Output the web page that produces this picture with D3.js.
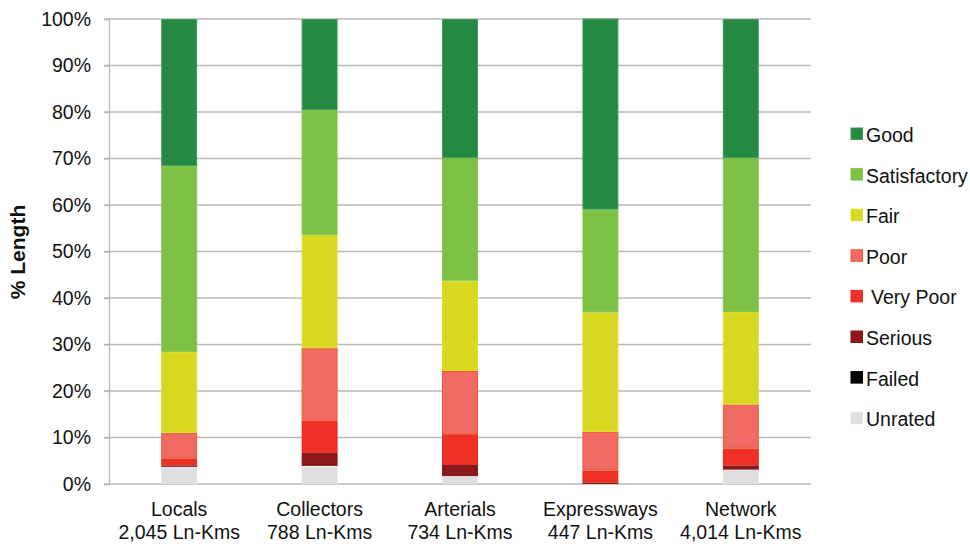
<!DOCTYPE html>
<html>
<head>
<meta charset="utf-8">
<script src="https://cdn.jsdelivr.net/npm/d3@7"></script>
<style>
  html, body { margin: 0; padding: 0; background: #fff; }
  svg { display: block; font-family: "Liberation Sans", Arial, sans-serif; }
</style>
</head>
<body>
<svg id="chart" width="970" height="544"></svg>
<script>
// Road classes and their network length
const categories = ["Locals", "Collectors", "Arterials", "Expressways", "Network"];
const lengths = ["2,045 Ln-Kms", "788 Ln-Kms", "734 Ln-Kms", "447 Ln-Kms", "4,014 Ln-Kms"];

// Condition ratings, stacked bottom to top
const conditions = ["Unrated", "Failed", "Serious", "Very Poor", "Poor", "Fair", "Satisfactory", "Good"];

// Share of length (%) per condition, one value per road class
const unrated      = [3.7, 3.7, 1.7, 0.0, 3.1];
const failed       = [0.0, 0.2, 0.0, 0.0, 0.0];
const serious      = [0.3, 2.8, 2.4, 0.3, 0.9];
const veryPoor     = [1.5, 6.9, 6.6, 2.6, 3.6];
const poor         = [5.5, 15.6, 13.6, 8.3, 9.5];
const fair         = [17.4, 24.3, 19.4, 25.7, 19.9];
const satisfactory = [40.0, 26.9, 26.4, 22.1, 33.1];
const good         = [31.6, 19.6, 29.9, 41.1, 29.9];

const yTicks = [0, 10, 20, 30, 40, 50, 60, 70, 80, 90, 100];

const fills = {
  "Unrated": "#dedede", "Failed": "#050505", "Serious": "#8c181c",
  "Very Poor": "#ee3124", "Poor": "#f06b63", "Fair": "#d8d820",
  "Satisfactory": "#7cc143", "Good": "#268943"
};
const strokes = {
  "Unrated": "#e4e4e4", "Failed": "#000", "Serious": "#7e1519",
  "Very Poor": "#e02a22", "Poor": "#f2582a", "Fair": "#dcdc30",
  "Satisfactory": "#82c64c", "Good": "#3d9a55"
};

const seriesValues = [unrated, failed, serious, veryPoor, poor, fair, satisfactory, good];
const rows = categories.map((c, i) => {
  const r = { category: c };
  conditions.forEach((k, j) => { r[k] = seriesValues[j][i]; });
  return r;
});

const svg = d3.select("#chart");
const x = d3.scaleBand().domain(categories).range([109, 811]).paddingInner(0.744).paddingOuter(0.372);
const y = d3.scaleLinear().domain([0, 100]).range([484, 19]);

// gridlines
svg.append("g")
  .selectAll("line").data(yTicks).join("line")
  .attr("x1", 104).attr("x2", 811)
  .attr("y1", d => y(d)).attr("y2", d => y(d))
  .attr("stroke", "#b8b8b8").attr("stroke-width", 1.3);

// y axis
const yAxis = d3.axisLeft(y).tickValues(yTicks).tickFormat(d => d + "%").tickSize(5).tickPadding(13);
const ya = svg.append("g").attr("transform", "translate(109,0)").call(yAxis);
ya.select(".domain").attr("stroke", "#b8b8b8").attr("stroke-width", 1.3);
ya.selectAll(".tick line").attr("stroke", "#b8b8b8").attr("stroke-width", 1.3);
ya.selectAll(".tick text").attr("font-size", 19.5).attr("fill", "#111")
  .attr("font-family", "Liberation Sans, Arial, sans-serif");

// stacked bars
const stack = d3.stack().keys(conditions)(rows);
svg.append("g").selectAll("g").data(stack).join("g")
  .attr("fill", d => fills[d.key])
  .attr("stroke", d => strokes[d.key])
  .attr("stroke-width", 1)
  .selectAll("rect").data(d => d.filter(p => p[1] - p[0] > 0)).join("rect")
  .attr("x", d => x(d.data.category) + 0.5)
  .attr("width", x.bandwidth() - 1)
  .attr("y", d => y(d[1]) + 0.5)
  .attr("height", d => Math.max(0, y(d[0]) - y(d[1]) - 1));

// category labels
const xl = svg.append("g").selectAll("text").data(categories).join("text")
  .attr("text-anchor", "middle")
  .attr("font-size", 19.5).attr("fill", "#111");
xl.append("tspan").attr("x", d => x(d) + x.bandwidth() / 2).attr("y", 516).text(d => d);
xl.append("tspan").attr("x", d => x(d) + x.bandwidth() / 2).attr("y", 539)
  .text((d, i) => lengths[i]);

// y axis title
svg.append("text")
  .attr("transform", "translate(25,252) rotate(-90)")
  .attr("text-anchor", "middle")
  .attr("font-size", 21).attr("font-weight", "bold").attr("fill", "#111")
  .text("% Length");

// legend, top to bottom
const legendItems = conditions.slice().reverse();
const lg = svg.append("g").selectAll("g").data(legendItems).join("g")
  .attr("transform", (d, i) => `translate(851,${128 + i * 40.6})`);
lg.append("rect").attr("width", 11.5).attr("height", 11.5)
  .attr("fill", d => fills[d]).attr("stroke", d => strokes[d]).attr("stroke-width", 1);
lg.append("text")
  .attr("x", d => d === "Very Poor" ? 20 : 15)
  .attr("y", 14)
  .attr("font-size", 19.5).attr("fill", "#111")
  .text(d => d);
</script>
</body>
</html>
